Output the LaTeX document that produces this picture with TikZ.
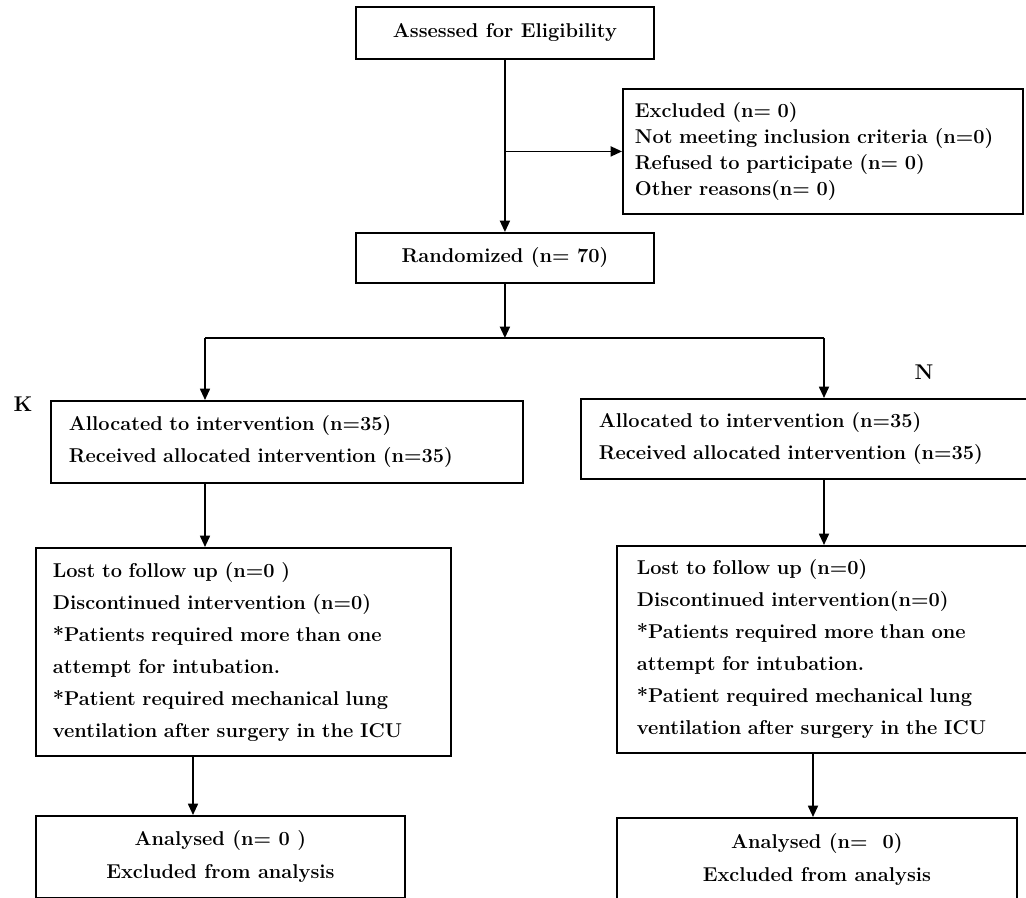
\documentclass[tikz,border=0pt]{standalone}
\usepackage{tikz}
\usetikzlibrary{positioning,arrows.meta}

\begin{document}
\begin{tikzpicture}[
    x=0.75pt, y=-0.75pt,
    box/.style={draw=black, line width=1.4pt, anchor=north west, inner ysep=0pt, font=\bfseries\fontsize{15}{24}\selectfont},
    leftbox/.style={box, align=left},
    midbox/.style={box, align=center},
    arrow/.style={-{Triangle[length=8.5pt, width=7.5pt]}, line width=1.3pt},
    plainline/.style={line width=1.3pt},
    armlabel/.style={font=\bfseries\fontsize{16}{19}\selectfont},
]
\useasboundingbox (0,0) rectangle (1026,898);

% === LAYOUT: positions in pixels of the flow chart ===

% --- ENROLMENT ---
\node[midbox, minimum width=223.5pt, minimum height=39pt] (assess) at (355,6) {Assessed for Eligibility};
\node[leftbox, font=\bfseries\fontsize{15}{19.5}\selectfont, inner xsep=9pt, text width=282pt, minimum height=93.75pt] (excl) at (622,88)
    {Excluded (n= 0)\\ Not meeting inclusion criteria (n=0)\\ Refused to participate (n= 0)\\ Other reasons(n= 0)};
\node[midbox, minimum width=223.5pt, minimum height=37.5pt] (rand) at (355,232) {Randomized (n= 70)};

% --- ALLOCATION ---
\node[leftbox, inner xsep=13.5pt, text width=327pt, minimum height=61.5pt] (allocK) at (50,400)
    {Allocated to intervention (n=35)\\ Received allocated intervention (n=35)};
\node[leftbox, inner xsep=13.5pt, text width=312pt, minimum height=60pt] (allocN) at (580,398)
    {Allocated to intervention (n=35)\\ Received allocated intervention (n=35)};

% --- FOLLOW UP ---
\node[leftbox, inner xsep=12.75pt, text width=285.75pt, minimum height=156pt] (lostK) at (35,547)
    {Lost to follow up (n=0 )\\ Discontinued intervention (n=0)\\ {*}Patients required more than one\\ attempt for intubation.\\ {*}Patient required mechanical lung\\ ventilation after surgery in the ICU};
\node[leftbox, inner xsep=15pt, text width=282pt, minimum height=155.25pt] (lostN) at (616,545)
    {Lost to follow up (n=0)\\ Discontinued intervention(n=0)\\ {*}Patients required more than one\\ attempt for intubation.\\ {*}Patient required mechanical lung\\ ventilation after surgery in the ICU};

% --- ANALYSIS ---
\node[midbox, font=\bfseries\fontsize{15}{24.75}\selectfont, minimum width=276.75pt, minimum height=61.5pt] (anaK) at (35,815)
    {Analysed (n= 0 )\\ Excluded from analysis};
\node[midbox, font=\bfseries\fontsize{15}{24.75}\selectfont, minimum width=300pt, minimum height=63pt] (anaN) at (616,817)
    {Analysed (n=\ \ 0)\\ Excluded from analysis};

% --- ARM LABELS ---
\node[armlabel] (labK) at (23,404) {K};
\node[armlabel] (labN) at (924,372) {N};

% =======================================================================
% ARROWS
% =======================================================================
\coordinate (splitK) at (205,338);
\coordinate (splitN) at (824,338);
\coordinate (downK) at (193,0);
\coordinate (downN) at (813,0);

\draw[arrow] (assess) -- (rand);
\draw[arrow] (assess.south |- excl.west) -- (excl.west);
\draw[arrow] (rand) -- (rand |- splitK);
\draw[plainline] (splitK) -- (splitN);

\draw[arrow] (splitK) -- (splitK |- allocK.north);
\draw[arrow] (splitN) -- (splitN |- allocN.north);

\draw[arrow] (splitK |- allocK.south) -- (splitK |- lostK.north);
\draw[arrow] (splitN |- allocN.south) -- (splitN |- lostN.north);

\draw[arrow] (downK |- lostK.south) -- (downK |- anaK.north);
\draw[arrow] (downN |- lostN.south) -- (downN |- anaN.north);

\end{tikzpicture}
\end{document}
